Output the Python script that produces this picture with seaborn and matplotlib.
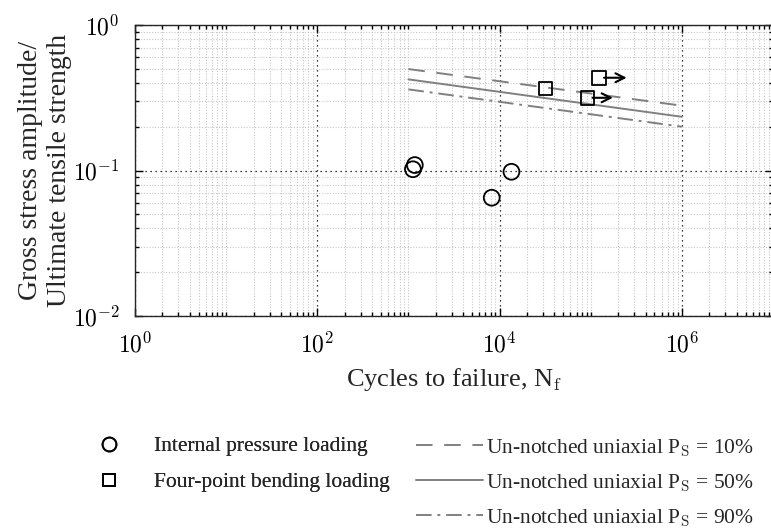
import numpy as np
import pandas as pd
import matplotlib
matplotlib.use("Agg")
import matplotlib.pyplot as plt
import seaborn as sns
from matplotlib.ticker import LogLocator, NullFormatter, FuncFormatter, FixedLocator
from matplotlib.lines import Line2D

# ---- data ----
pressure_N = [1120, 1175, 8200, 13500]
pressure_S = [0.102, 0.109, 0.065, 0.098]
bending_N = [31900, 92700, 124000]
bending_S = [0.365, 0.316, 0.434]
bending_runout = [False, True, True]
runout_end_N = [None, 175000, 248000]
curve_N = [1e3, 1e6]
ps10 = [0.498, 0.279]
ps50 = [0.423, 0.234]
ps90 = [0.361, 0.200]
x_major = [1, 1e2, 1e4, 1e6]
legend_labels = ["Internal pressure loading", "Four-point bending loading",
                 r"Un-notched uniaxial P$_{\mathrm{S}}$ = 10%",
                 r"Un-notched uniaxial P$_{\mathrm{S}}$ = 50%",
                 r"Un-notched uniaxial P$_{\mathrm{S}}$ = 90%"]

sns.set_theme(style="ticks")
plt.rcParams['font.family'] = ['Liberation Serif', 'DejaVu Serif']
plt.rcParams['mathtext.fontset'] = 'cm'

fig = plt.figure(figsize=(7.71, 5.32), dpi=100)
ax = fig.add_axes([135/771, 1-316/532, (773-135)/771, (316-25)/532])

gray = "#808080"
curves = pd.DataFrame({"N": curve_N * 3,
                       "S": ps10 + ps50 + ps90,
                       "curve": ["10"] * 2 + ["50"] * 2 + ["90"] * 2})
styles = {"10": (0, (8.5, 6)), "50": "-", "90": (0, (8, 3, 1.5, 3))}
for key, sub in curves.groupby("curve"):
    sns.lineplot(data=sub, x="N", y="S", ax=ax, color=gray, lw=1.4,
                 linestyle=styles[key], legend=False)

sns.scatterplot(x=pressure_N, y=pressure_S, ax=ax, marker="o", s=130,
                facecolor="none", edgecolor="black", linewidth=1.3, zorder=5)
sns.scatterplot(x=bending_N, y=bending_S, ax=ax, marker="s", s=95,
                facecolor="none", edgecolor="black", linewidth=1.3, zorder=5)
for n, s, r, e in zip(bending_N, bending_S, bending_runout, runout_end_N):
    if r:
        ax.annotate("", xy=(e, s), xytext=(n * 1.13, s),
                    arrowprops=dict(arrowstyle="->", lw=1.5, color="black",
                                    mutation_scale=16, shrinkA=0, shrinkB=0))

ax.set_xscale("log")
ax.set_yscale("log")
ax.set_xlim(1, 1e7)
ax.set_ylim(1e-2, 1)

fmt = FuncFormatter(lambda v, p: r"$10^{%d}$" % int(round(np.log10(v))))
ax.xaxis.set_major_locator(FixedLocator(x_major))
ax.xaxis.set_major_formatter(fmt)
xminor = []
for k in range(0, 7):
    for m in range(1, 10):
        v = m * 10**k
        if v not in x_major:
            xminor.append(v)
ax.xaxis.set_minor_locator(FixedLocator(xminor))
ax.xaxis.set_minor_formatter(NullFormatter())
ax.yaxis.set_major_locator(LogLocator(base=10, numticks=10))
ax.yaxis.set_major_formatter(fmt)
ax.yaxis.set_minor_locator(LogLocator(base=10, subs=np.arange(2, 10), numticks=20))
ax.yaxis.set_minor_formatter(NullFormatter())

ax.grid(which="minor", color="#c8c8c8", linestyle=(0, (1, 1.5)), lw=0.8)
ax.grid(which="major", color="black", linestyle=(0, (1, 3)), lw=0.9)
ax.set_axisbelow(True)
ax.tick_params(which="both", direction="in", top=True, right=True, colors="black",
               labelsize=17, width=1)
ax.tick_params(which="major", length=6)
ax.tick_params(which="minor", length=3)
ax.tick_params(axis="x", which="major", pad=12)
ax.tick_params(axis="y", which="major", pad=11)
for sp in ax.spines.values():
    sp.set_color("#262626")
    sp.set_linewidth(1)

ax.set_xlabel(r"Cycles to failure, N$_{\mathrm{f}}$", fontsize=19, labelpad=6)
ax.set_ylabel("Gross stress amplitude/\nUltimate tensile strength", fontsize=20,
              linespacing=1.2)
ax.yaxis.set_label_coords((72 - 135) / 638, 0.5)

h1 = [Line2D([], [], marker="o", ls="none", mfc="none", mec="black", ms=10, mew=1.3),
      Line2D([], [], marker="s", ls="none", mfc="none", mec="black", ms=8.5, mew=1.3)]
leg1 = fig.legend(h1, legend_labels[:2], loc="upper left", bbox_to_anchor=(96/771, 1-436/532),
                  frameon=False, fontsize=15.5, handlelength=1.2, handletextpad=1.5,
                  labelspacing=0.76, borderaxespad=0, borderpad=0)
h2 = [Line2D([], [], color=gray, lw=1.4, ls=styles["10"]),
      Line2D([], [], color=gray, lw=1.4, ls=styles["50"]),
      Line2D([], [], color=gray, lw=1.4, ls=styles["90"])]
leg2 = fig.legend(h2, legend_labels[2:], loc="upper left", bbox_to_anchor=(416/771, 1-437/532),
                  frameon=False, fontsize=15.5, handlelength=3.1, handletextpad=0.15,
                  labelspacing=0.62, borderaxespad=0, borderpad=0)
fig.add_artist(leg1)

fig.savefig("out.png", dpi=100)
